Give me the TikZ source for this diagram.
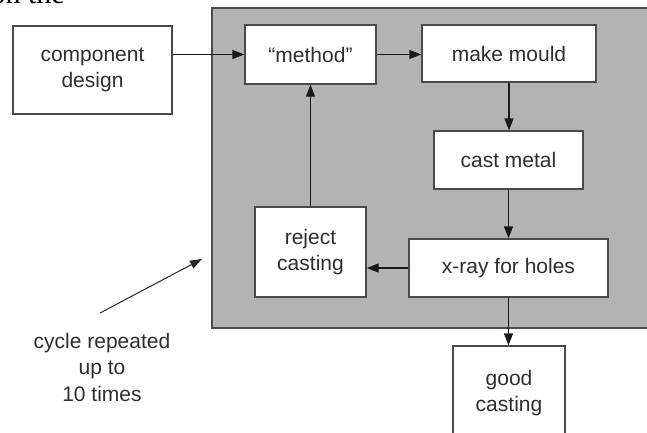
\documentclass[tikz,border=0pt]{standalone}
\usepackage{fontspec}
\setmainfont{Liberation Sans}
\newfontfamily\serifpart{Liberation Serif}
\usetikzlibrary{arrows.meta,calc}
\definecolor{panelgray}{HTML}{B3B3B3}
\definecolor{edgegray}{HTML}{4A4A4A}
\definecolor{txtgray}{HTML}{2E2E2E}
\begin{document}
\begin{tikzpicture}[x=1pt,y=-1pt,
  stepbox/.style={draw=edgegray,fill=white,line width=1.4pt,rectangle,inner sep=0pt,
    align=center,text=txtgray,font=\fontsize{21}{26.5}\selectfont},
  flow/.style={draw=black!90,line width=1.4pt,-{Triangle[length=12pt,width=9pt]}},
  note/.style={align=center,text=txtgray,font=\fontsize{21}{26.5}\selectfont}]
\useasboundingbox (0,0) rectangle (647,432);
\clip (0,0) rectangle (647,432);
% clipped text fragment at top
\node[anchor=base east,inner sep=0pt,font=\serifpart\fontsize{30}{30}\selectfont] (frag) at (65,3) {on the};
% gray panel
\draw[fill=panelgray,draw=edgegray,line width=1.4pt] (212,8) rectangle (680,328);
% boxes
\node[stepbox,minimum width=159pt,minimum height=88pt] (comp) at (92.5,70) {component\\design};
\node[stepbox,minimum width=131pt,minimum height=59pt] (method) at (310.5,54.5) {“method”};
\node[stepbox,minimum width=174pt,minimum height=57pt] (mould) at (509,53.5) {make mould};
\node[stepbox,minimum width=149pt,minimum height=58pt] (cast) at (508.5,160) {cast metal};
\node[stepbox,minimum width=199pt,minimum height=58pt] (xray) at (508.5,268) {x-ray for holes};
\node[stepbox,minimum width=111pt,minimum height=90pt] (reject) at (310.5,252) {reject\\casting};
\node[stepbox,minimum width=112pt,minimum height=94pt] (good) at (509,393) {good\\casting};
% connectors
\draw[flow] (method.west -| comp.east) -- (method.west);
\draw[flow] (method.east) -- (method.east -| mould.west);
\draw[flow] (mould.south) -- (mould.south |- cast.north);
\draw[flow] (cast.south) -- (cast.south |- xray.north);
\draw[flow] (xray.west) -- (xray.west -| reject.east);
\draw[flow] (reject.north) -- (reject.north |- method.south);
\draw[flow] (xray.south) -- (xray.south |- good.north);
% annotation
\node[note] (cyc) at (102,367) {cycle repeated\\up to\\10 times};
\coordinate (annstart) at (100,313);
\coordinate (anntip) at (202,259);
\draw[line width=1pt,draw=black!85,-{Triangle[length=12pt,width=8.5pt]}] (annstart) -- (anntip);
\end{tikzpicture}
\end{document}
